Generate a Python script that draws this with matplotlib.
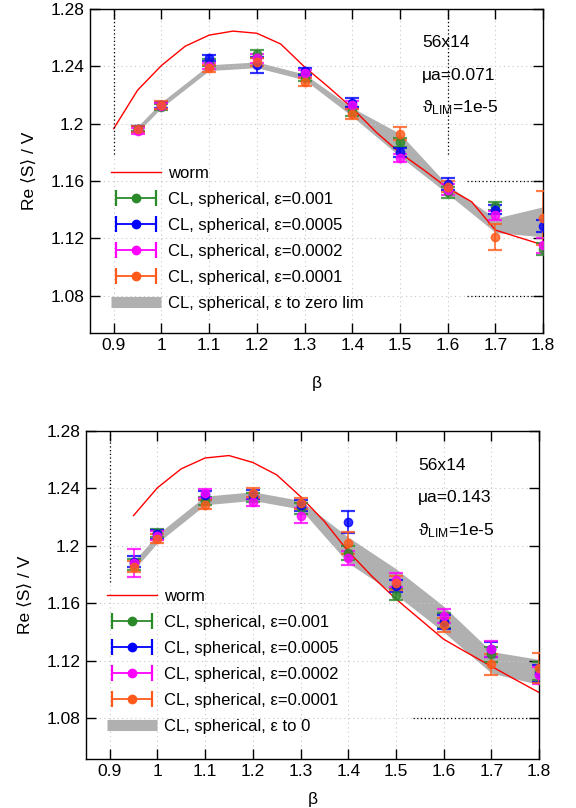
import matplotlib.pyplot as plt
from matplotlib.lines import Line2D
from matplotlib.legend_handler import HandlerLine2D

plt.rcParams["font.family"] = ["Liberation Sans", "DejaVu Sans"]
plt.rcParams["font.size"] = 12.5
plt.rcParams["mathtext.default"] = "regular"

# beta values of the complex Langevin runs
betas = [0.95, 1.0, 1.1, 1.2, 1.3, 1.4, 1.5, 1.6, 1.7, 1.8]
eps_labels = ["0.001", "0.0005", "0.0002", "0.0001"]

# ---- upper panel, mu a = 0.071 ----
worm_beta_a = [0.9, 0.95, 1.0, 1.05, 1.1, 1.15, 1.2, 1.25, 1.3, 1.35, 1.4, 1.45,
               1.5, 1.55, 1.6, 1.65, 1.7, 1.75, 1.8]
worm_a = [1.1965, 1.2233, 1.2405, 1.254, 1.2617, 1.2645, 1.263, 1.2555, 1.2395,
          1.2255, 1.2108, 1.194, 1.1795, 1.1676, 1.155, 1.1455, 1.1257, 1.1205, 1.1153]
cl_a = [
    [1.1965, 1.2115, 1.2425, 1.2485, 1.2320, 1.2085, 1.1870, 1.1520, 1.1425, 1.1125],
    [1.1960, 1.2130, 1.2455, 1.2410, 1.2365, 1.2145, 1.1800, 1.1580, 1.1400, 1.1285],
    [1.1950, 1.2125, 1.2400, 1.2455, 1.2350, 1.2130, 1.1760, 1.1540, 1.1360, 1.1150],
    [1.1960, 1.2130, 1.2385, 1.2430, 1.2290, 1.2065, 1.1930, 1.1560, 1.1210, 1.1340],
]
cl_err_a = [
    [0.002, 0.002, 0.0025, 0.003, 0.0025, 0.003, 0.003, 0.004, 0.003, 0.004],
    [0.002, 0.002, 0.002, 0.0055, 0.0025, 0.003, 0.003, 0.004, 0.003, 0.004],
    [0.002, 0.002, 0.002, 0.003, 0.0025, 0.003, 0.003, 0.004, 0.003, 0.005],
    [0.002, 0.0025, 0.0025, 0.003, 0.003, 0.0035, 0.0045, 0.004, 0.009, 0.019],
]
band_lo_a = [1.194, 1.211, 1.237, 1.239, 1.2305, 1.205, 1.177, 1.151, 1.124, 1.121]
band_hi_a = [1.198, 1.215, 1.241, 1.243, 1.2345, 1.211, 1.193, 1.157, 1.134, 1.142]

# ---- lower panel, mu a = 0.143 ----
worm_beta_b = [0.95, 1.0, 1.05, 1.1, 1.15, 1.2, 1.25, 1.3, 1.35, 1.4, 1.45,
               1.5, 1.55, 1.6, 1.65, 1.7, 1.75, 1.8]
worm_b = [1.221, 1.2403, 1.2535, 1.261, 1.2627, 1.2579, 1.2493, 1.2342, 1.2169,
          1.196, 1.1787, 1.163, 1.149, 1.135, 1.1255, 1.1162, 1.107, 1.098]
cl_b = [
    [1.187, 1.209, 1.231, 1.2335, 1.226, 1.195, 1.166, 1.148, 1.1245, 1.113],
    [1.189, 1.208, 1.235, 1.2355, 1.228, 1.2167, 1.172, 1.147, 1.128, 1.111],
    [1.188, 1.207, 1.2365, 1.2305, 1.221, 1.1915, 1.176, 1.151, 1.1285, 1.110],
    [1.1855, 1.205, 1.2285, 1.237, 1.2295, 1.202, 1.174, 1.145, 1.1175, 1.115],
]
cl_err_b = [
    [0.004, 0.003, 0.003, 0.003, 0.004, 0.005, 0.004, 0.005, 0.005, 0.006],
    [0.004, 0.003, 0.003, 0.003, 0.004, 0.0075, 0.004, 0.005, 0.005, 0.006],
    [0.0095, 0.003, 0.003, 0.003, 0.005, 0.005, 0.005, 0.005, 0.0055, 0.006],
    [0.004, 0.003, 0.003, 0.003, 0.004, 0.0075, 0.005, 0.005, 0.007, 0.0105],
]
band_lo_b = [1.183, 1.202, 1.2285, 1.2315, 1.2255, 1.188, 1.166, 1.140, 1.1115, 1.1035]
band_hi_b = [1.189, 1.208, 1.2345, 1.2375, 1.2315, 1.206, 1.184, 1.158, 1.1265, 1.121]

colors = ["#2a8a2a", "#0000ff", "#ff00ff", "#ff5a1a"]
band_color = "#b0b0b0"


def draw_panel(ax, worm_beta, worm, cl, cl_err, band_lo, band_hi, band_label,
               mu_text, ylim, guides_v, guides_h, legend_top, xpad):
    ax.fill_between(betas, band_lo, band_hi, color=band_color, lw=0, zorder=1)
    ax.plot(worm_beta, worm, color="red", lw=1.0, zorder=2)
    for vals, errs, c in zip(cl, cl_err, colors):
        ax.errorbar(betas, vals, yerr=errs, fmt="o", color=c, ms=6,
                    elinewidth=1.3, capsize=4.7, capthick=1.6, alpha=0.8, zorder=3)

    # black dotted guide lines
    for x, y0, y1 in guides_v:
        ax.plot([x, x], [y0, y1], color="black", lw=0.9, ls=(0, (1, 2)), zorder=2)
    for y, x0, x1 in guides_h:
        ax.plot([x0, x1], [y, y], color="black", lw=0.9, ls=(0, (1, 2)), zorder=2)

    ax.set_xlim(0.85, 1.8)
    ax.set_ylim(*ylim)
    ax.set_xticks([0.9, 1.0, 1.1, 1.2, 1.3, 1.4, 1.5, 1.6, 1.7, 1.8])
    ax.set_xticklabels(["0.9", "1", "1.1", "1.2", "1.3", "1.4", "1.5", "1.6", "1.7", "1.8"])
    ax.set_yticks([1.08, 1.12, 1.16, 1.2, 1.24, 1.28])
    ax.set_yticklabels(["1.08", "1.12", "1.16", "1.2", "1.24", "1.28"])
    ax.tick_params(direction="in", length=7, width=1, top=True, right=True, pad=4)
    ax.grid(True, color="#c8c8c8", lw=0.8, ls=(0, (1, 3)))
    for s in ax.spines.values():
        s.set_linewidth(1.0)
    ax.set_xlabel("β", labelpad=xpad)
    ax.set_ylabel("Re ⟨S⟩ / V", labelpad=10)

    ax.text(0.733, 0.895, "56x14", transform=ax.transAxes, va="center")
    ax.text(0.733, 0.795, mu_text, transform=ax.transAxes, va="center")
    ax.text(0.733, 0.695, "ϑ$_{LIM}$=1e-5", transform=ax.transAxes, va="center")

    handles = [Line2D([], [], color="red", lw=1.0)]
    handler_map = {}
    for c in colors:
        caps = Line2D([], [], color=c, lw=1.3, marker="|", ms=11, mew=1.6)
        dot = Line2D([], [], color=c, ls="none", marker="o", ms=6)
        handler_map[caps] = HandlerLine2D(numpoints=2)
        handles.append((caps, dot))
    handles.append(Line2D([], [], color=band_color, lw=8, solid_capstyle="butt"))
    labels = ["worm"] + [f"CL, spherical, ε={e}" for e in eps_labels] + [band_label]
    ax.legend(handles, labels, handler_map=handler_map, loc="upper left",
              bbox_to_anchor=(0.046, legend_top), frameon=False, borderpad=0,
              borderaxespad=0, handlelength=3.0, handletextpad=0.45,
              labelspacing=0.66, fontsize=12)


fig = plt.figure(figsize=(5.76, 8.08), dpi=100)
ax1 = fig.add_axes([0.156, 0.588, 0.787, 0.401])
ax2 = fig.add_axes([0.149, 0.061, 0.787, 0.406])

draw_panel(ax1, worm_beta_a, worm_a, cl_a, cl_err_a, band_lo_a, band_hi_a,
           "CL, spherical, ε to zero lim", "μa=0.071", (1.054, 1.28),
           [(0.9, 1.179, 1.28), (1.6, 1.179, 1.28)],
           [(1.16, 1.64, 1.8), (1.08, 1.64, 1.8)], 0.515, 16)
draw_panel(ax2, worm_beta_b, worm_b, cl_b, cl_err_b, band_lo_b, band_hi_b,
           "CL, spherical, ε to 0", "μa=0.143", (1.052, 1.28),
           [(0.9, 1.175, 1.28)],
           [(1.08, 1.535, 1.8)], 0.517, 9)

fig.savefig("out.png", dpi=100)
